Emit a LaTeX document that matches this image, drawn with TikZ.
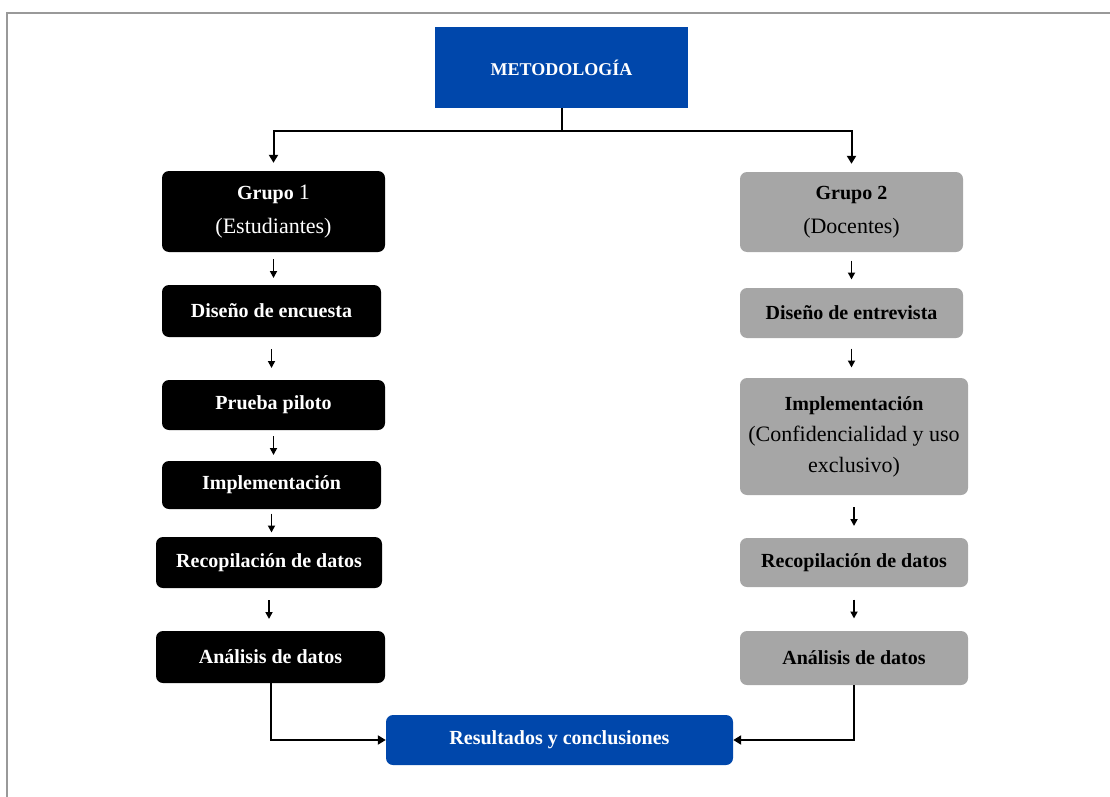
\documentclass[tikz,border=0pt]{standalone}
\usepackage{fontspec}
\setmainfont{Liberation Serif}
\usetikzlibrary{arrows.meta,calc}
\definecolor{azul}{RGB}{0,71,171}
\definecolor{gris}{RGB}{166,166,166}
\newcommand{\normaltxt}[1]{{\fontsize{22}{34}\selectfont\mdseries #1}}

\begin{document}
\begin{tikzpicture}[x=1pt,y=-1pt,
    caja/.style={rounded corners=7pt, align=center, inner sep=0pt,
        font=\fontsize{20}{34}\selectfont\bfseries},
    negra/.style={caja, fill=black, text=white},
    gris/.style={caja, fill=gris, text=black},
    azul/.style={caja, fill=azul, text=white},
    flecha/.style={-{Triangle[length=7pt,width=7pt]}, line width=1.7pt},
    conn/.style={-{Triangle[length=8pt,width=9pt]}, line width=2pt}]
    \useasboundingbox (0,0) rectangle (1110,797);
    \draw[gray!80, line width=1.8pt] (7,797) -- (7,13) -- (1110,13);
    % cabecera
    \node[azul, rounded corners=0pt, minimum width=253, minimum height=81,
        font=\fontsize{18}{20}\selectfont\bfseries] (metod) at (561.5,67.5) {METODOLOGÍA};
    % grupo 1
    \node[negra, minimum width=223, minimum height=81] (g1) at (273.5,211.5)
        {Grupo \normaltxt{1}\\\normaltxt{(Estudiantes)}};
    \node[negra, minimum width=219, minimum height=52] (d1) at (271.5,311) {Diseño de encuesta};
    \node[negra, minimum width=223, minimum height=50] (p1) at (273.5,405) {Prueba piloto};
    \node[negra, minimum width=219, minimum height=48] (i1) at (271.5,485) {Implementación};
    \node[negra, minimum width=226, minimum height=51] (r1) at (269,562.5) {Recopilación de datos};
    \node[negra, minimum width=229, minimum height=52] (a1) at (270.5,657) {Análisis de datos};
    % grupo 2
    \node[gris, minimum width=223, minimum height=80] (g2) at (851.5,212)
        {Grupo 2\\\normaltxt{(Docentes)}};
    \node[gris, minimum width=223, minimum height=50] (d2) at (851.5,313) {Diseño de entrevista};
    \node[gris, minimum width=228, minimum height=117, font=\fontsize{20}{31}\selectfont\bfseries]
        (i2) at (854,436.5)
        {Implementación\\\normaltxt{(Confidencialidad y uso}\\\normaltxt{exclusivo)}};
    \node[gris, minimum width=228, minimum height=49] (r2) at (854,562.5) {Recopilación de datos};
    \node[gris, minimum width=228, minimum height=54] (a2) at (854,658) {Análisis de datos};
    % final
    \node[azul, minimum width=347, minimum height=50] (res) at (559.5,740) {Resultados y conclusiones};

    \draw[conn, shorten >=8pt] (metod.south) -- ++(0,23) coordinate (rama) -| (g1.north);
    \draw[conn, shorten >=8pt] (rama) -| (g2.north);
    \foreach \a/\b in {g1/d1, d1/p1, p1/i1, i1/r1, r1/a1, g2/d2, d2/i2, i2/r2, r2/a2}
        \draw[flecha] ($(\a.south)!.5!(\a.south |- \b.north)$) ++(0,-9.5) -- ++(0,19);
    \draw[conn] (a1.south) |- (res.west);
    \draw[conn] (a2.south) |- (res.east);
\end{tikzpicture}
\end{document}
